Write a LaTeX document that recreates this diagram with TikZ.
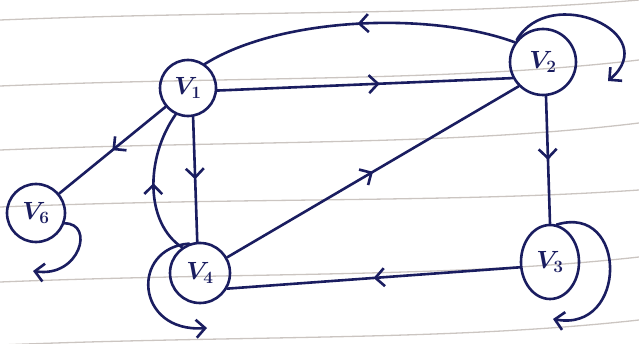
\documentclass[tikz,border=0pt]{standalone}
\usepackage{tikz}
\usepackage{xcolor}
\usetikzlibrary{arrows.meta, decorations.markings, shapes.geometric}
\definecolor{mInk}{HTML}{1A1D60}
\definecolor{mRule}{HTML}{A89F98}

\begin{document}
\begin{tikzpicture}[x=1pt, y=1pt,
  vert/.style={draw=mInk, circle, line width=2.6pt, inner sep=0pt,
               font=\fontsize{26}{30}\selectfont\boldmath, text=mInk},
  edge/.style={draw=mInk, line width=2.6pt, line cap=round},
  barb/.style={-{Straight Barb[length=9pt, width=18pt, line width=2.6pt]}},
  midarrow/.style={postaction={decorate}, decoration={markings,
      mark=at position #1 with {\arrow{Straight Barb[length=9pt, width=18pt, line width=2.6pt]}}}},
  midarrow/.default=0.5,
  rule/.style={draw=mRule, line width=1.3pt, opacity=0.6},
]
  \useasboundingbox (0,0) rectangle (639,343);
  % ruled paper
  \foreach \yl/\yr in {323/343, 257/283, 193/220, 136/153, 61/86, -2/23}
    \draw[rule] (0,\yl) .. controls (250,\yl+10) and (450,\yl+4) .. (639,\yr);

  \node[vert, minimum size=56pt] (v1) at (188,255) {$V_1$};
  \node[vert, minimum size=66pt] (v2) at (543,281) {$V_2$};
  \node[vert, ellipse, minimum width=58pt, minimum height=74pt] (v3) at (550,81) {$V_3$};
  \node[vert, minimum size=60pt] (v4) at (200,70) {$V_4$};
  \node[vert, minimum size=58pt] (v6) at (36,130) {$V_6$};

  \coordinate (l2) at (608,262);
  \coordinate (l3) at (553,24);
  \coordinate (l4) at (207,15);
  \coordinate (l6) at (33,72);

  \draw[edge, midarrow=0.55] (v1.-5) -- (v2.208);
  \draw[edge, midarrow] (v2.145) .. controls (430,332) and (280,326) .. (v1.55);
  \draw[edge, midarrow] (v1.220) -- (v6.40);
  \draw[edge, midarrow] (v1.-80) -- (v4.95);
  \draw[edge, midarrow] (v4.125) .. controls (145,120) and (145,185) .. (v1.-115);
  \draw[edge, midarrow] (v4.30) -- (v2.225);
  \draw[edge, midarrow] (v2.-85) -- (v3.north);
  \draw[edge, midarrow] (v3.190) -- (v4.-30);

  % self loops
  \draw[edge, barb] (v2.140) .. controls (550,360) and (664,310) .. (l2);
  \draw[edge, barb] (v3.80) .. controls (628,140) and (628,10) .. (l3);
  \draw[edge, barb] (v4.110) .. controls (130,95) and (135,10) .. (l4);
  \draw[edge, barb] (v6.-20) .. controls (95,120) and (80,65) .. (l6);
\end{tikzpicture}
\end{document}
